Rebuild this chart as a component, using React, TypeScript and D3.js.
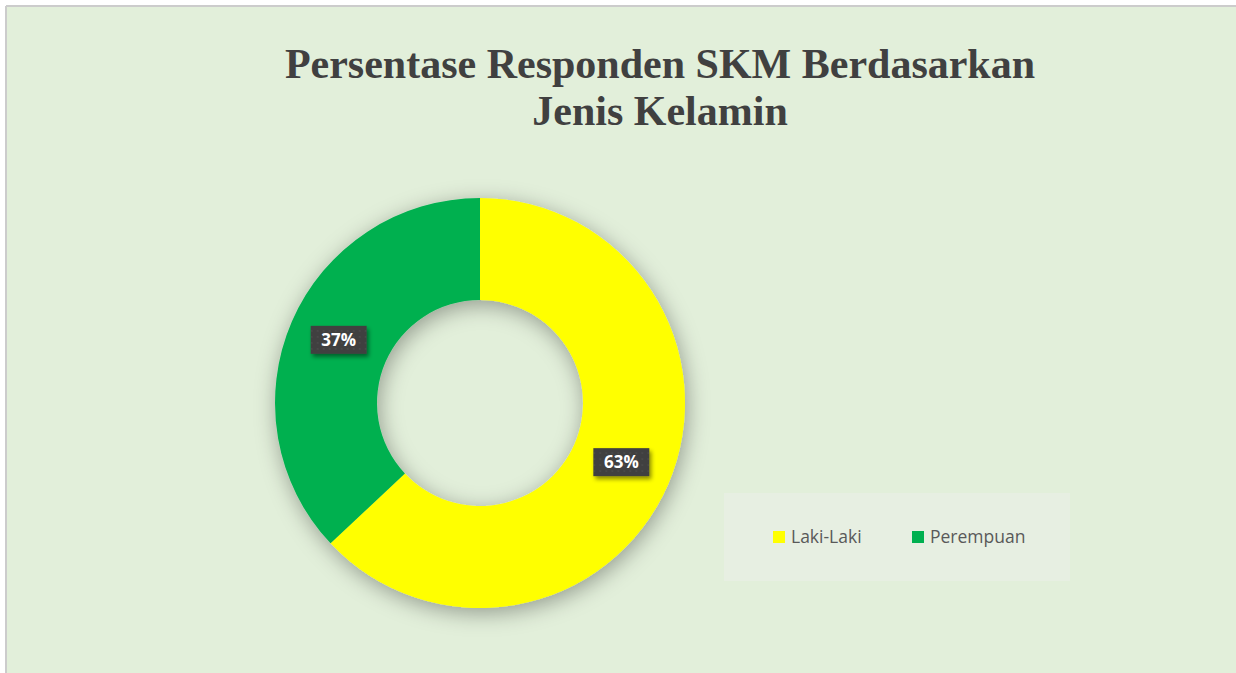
import React from "react";
import * as d3 from "d3";

const categories = ["Laki-Laki", "Perempuan"];
const values = [63, 37];
const colors = ["#FFFF00", "#00B050"];
const titleLines = ["Persentase Responden SKM Berdasarkan", "Jenis Kelamin"];

const W = 1236;
const H = 673;
const cx = 480;
const cy = 403;
const outerR = 205;
const innerR = 103;

export default function App() {
  const pie = d3.pie<number>().sort(null).value((d) => d).startAngle(0).endAngle(2 * Math.PI);
  const arcs = pie(values);
  const arcGen = d3.arc<d3.PieArcDatum<number>>().innerRadius(innerR).outerRadius(outerR);
  const labelArc = d3.arc<d3.PieArcDatum<number>>().innerRadius((innerR + outerR) / 2).outerRadius((innerR + outerR) / 2);
  const total = d3.sum(values);

  const legendX = 724, legendY = 493, legendW = 346, legendH = 88;
  const legendItemX = [773, 912];

  return (
    <svg width={W} height={H} style={{ position: "absolute", left: 0, top: 0 }}>
      <defs>
        <filter id="donutShadow" x="-30%" y="-30%" width="160%" height="160%">
          <feDropShadow dx="2" dy="5" stdDeviation="11" floodColor="#000" floodOpacity="0.35" />
        </filter>
        <filter id="labelShadow" x="-30%" y="-30%" width="160%" height="170%">
          <feDropShadow dx="2" dy="3" stdDeviation="2" floodColor="#000" floodOpacity="0.45" />
        </filter>
        <pattern id="dots" width="6" height="6" patternUnits="userSpaceOnUse">
          <rect width="6" height="6" fill="#404040" />
          <circle cx="3" cy="3" r="1" fill="#4a4a4a" />
        </pattern>
      </defs>
      <rect x={0} y={0} width={W} height={H} fill="#ffffff" />
      <rect x={7} y={7} width={W} height={H} fill="#E2EFDA" />
      <line x1={6} y1={6} x2={W} y2={6} stroke="#cccccc" strokeWidth={2} />
      <line x1={6} y1={6} x2={6} y2={H} stroke="#cccccc" strokeWidth={2} />

      <text
        x={660}
        textAnchor="middle"
        fontFamily="'Liberation Serif', 'Times New Roman', serif"
        fontWeight="bold"
        fontSize={42}
        fill="#404040"
      >
        {titleLines.map((t, i) => (
          <tspan key={i} x={660} y={78 + i * 47}>
            {t}
          </tspan>
        ))}
      </text>

      <g transform={`translate(${cx},${cy})`}>
        <g filter="url(#donutShadow)">
          {arcs.map((a, i) => (
            <path key={i} d={arcGen(a) || ""} fill={colors[i]} />
          ))}
        </g>
        {arcs.map((a, i) => {
          const [lx, ly] = labelArc.centroid(a);
          const txt = `${Math.round((a.data / total) * 100)}%`;
          return (
            <g key={"l" + i} transform={`translate(${lx},${ly - 2})`}>
              <rect x={-28} y={-14} width={56} height={28} fill="url(#dots)" filter="url(#labelShadow)" />
              <text
                x={0}
                y={6}
                textAnchor="middle"
                fontFamily="'Open Sans', 'Noto Sans', sans-serif"
                fontWeight="bold"
                fontSize={17}
                fill="#ffffff"
              >
                {txt}
              </text>
            </g>
          );
        })}
      </g>

      <rect x={legendX} y={legendY} width={legendW} height={legendH} fill="#E7EFE2" />
      {categories.map((c, i) => (
        <g key={c}>
          <rect x={legendItemX[i]} y={531} width={12} height={12} fill={colors[i]} />
          <text
            x={legendItemX[i] + 18}
            y={543}
            fontFamily="'Open Sans', 'Noto Sans', sans-serif"
            fontSize={17.5}
            fill="#595959"
          >
            {c}
          </text>
        </g>
      ))}
    </svg>
  );
}
